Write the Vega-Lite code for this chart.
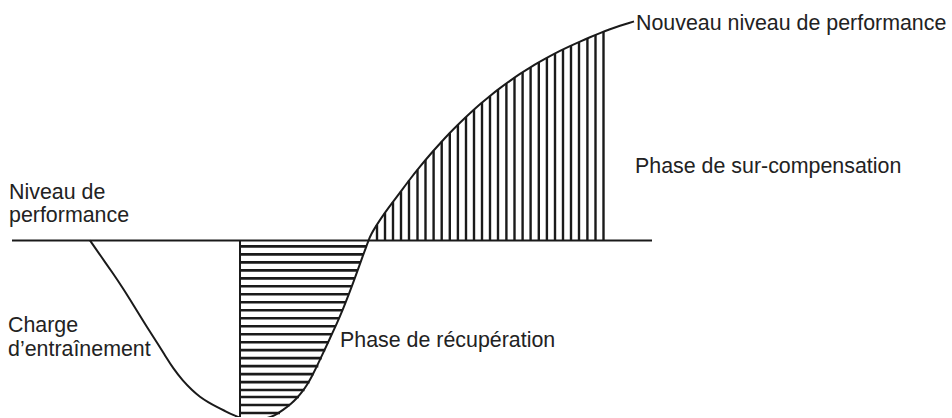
{
  "$schema": "https://vega.github.io/schema/vega-lite/v6.json",
  "width": 952,
  "height": 418,
  "padding": 0,
  "autosize": {"type": "fit", "contains": "padding"},
  "background": "white",
  "config": {"view": {"stroke": null}},
  "datasets": {
    "curve": [
      {"i": 1, "t": 90, "v": 241}, {"i": 2, "t": 101, "v": 257}, {"i": 3, "t": 113, "v": 274},
      {"i": 4, "t": 123, "v": 289}, {"i": 5, "t": 133, "v": 305}, {"i": 6, "t": 147, "v": 328},
      {"i": 7, "t": 160, "v": 348}, {"i": 8, "t": 166, "v": 358}, {"i": 9, "t": 173, "v": 369},
      {"i": 10, "t": 183, "v": 382}, {"i": 11, "t": 192, "v": 391}, {"i": 12, "t": 200, "v": 398},
      {"i": 13, "t": 208, "v": 403}, {"i": 14, "t": 217, "v": 408}, {"i": 15, "t": 225, "v": 412},
      {"i": 16, "t": 233, "v": 416}, {"i": 17, "t": 242, "v": 419.5}, {"i": 18, "t": 250, "v": 421},
      {"i": 19, "t": 258, "v": 421}, {"i": 20, "t": 266, "v": 419.5}, {"i": 21, "t": 275, "v": 416.5},
      {"i": 22, "t": 283, "v": 411}, {"i": 23, "t": 291, "v": 405}, {"i": 24, "t": 297, "v": 399},
      {"i": 25, "t": 302, "v": 393}, {"i": 26, "t": 307, "v": 386}, {"i": 27, "t": 312, "v": 377},
      {"i": 28, "t": 317, "v": 367}, {"i": 29, "t": 323, "v": 354}, {"i": 30, "t": 330, "v": 339},
      {"i": 31, "t": 337, "v": 324}, {"i": 32, "t": 343, "v": 310}, {"i": 33, "t": 348, "v": 297},
      {"i": 34, "t": 353, "v": 284}, {"i": 35, "t": 358, "v": 270}, {"i": 36, "t": 363, "v": 256},
      {"i": 37, "t": 366, "v": 248}, {"i": 38, "t": 368.5, "v": 241}, {"i": 39, "t": 371, "v": 235},
      {"i": 40, "t": 376, "v": 226.5}, {"i": 41, "t": 384, "v": 214.5}, {"i": 42, "t": 392, "v": 203.5},
      {"i": 43, "t": 400, "v": 193}, {"i": 44, "t": 410, "v": 179.5}, {"i": 45, "t": 420, "v": 167},
      {"i": 46, "t": 430, "v": 155}, {"i": 47, "t": 440, "v": 143.8}, {"i": 48, "t": 450, "v": 133},
      {"i": 49, "t": 460, "v": 123}, {"i": 50, "t": 470, "v": 113.5}, {"i": 51, "t": 480, "v": 104.5},
      {"i": 52, "t": 490, "v": 96}, {"i": 53, "t": 500, "v": 88.3}, {"i": 54, "t": 510, "v": 81},
      {"i": 55, "t": 520, "v": 74}, {"i": 56, "t": 530, "v": 67.7}, {"i": 57, "t": 540, "v": 61.8},
      {"i": 58, "t": 550, "v": 56.3}, {"i": 59, "t": 560, "v": 51}, {"i": 60, "t": 570, "v": 46.2},
      {"i": 61, "t": 580, "v": 41.7}, {"i": 62, "t": 590, "v": 37.3}, {"i": 63, "t": 600, "v": 33.2},
      {"i": 64, "t": 610, "v": 29.3}, {"i": 65, "t": 620, "v": 25.8}, {"i": 66, "t": 630, "v": 22.7},
      {"i": 67, "t": 634, "v": 21.5}
    ],
    "hstripes": [
      {"v": 247, "ta": 240, "tb": 366.5}, {"v": 255, "ta": 240, "tb": 363.5},
      {"v": 263, "ta": 240, "tb": 360.5}, {"v": 271, "ta": 240, "tb": 357.6},
      {"v": 279, "ta": 240, "tb": 354.5}, {"v": 287, "ta": 240, "tb": 351.5},
      {"v": 295, "ta": 240, "tb": 348.6}, {"v": 303, "ta": 240, "tb": 345.6},
      {"v": 311, "ta": 240, "tb": 342.6}, {"v": 319, "ta": 240, "tb": 339},
      {"v": 327, "ta": 240, "tb": 335.6}, {"v": 335, "ta": 240, "tb": 332},
      {"v": 343, "ta": 240, "tb": 328.7}, {"v": 351, "ta": 240, "tb": 325.2},
      {"v": 359, "ta": 240, "tb": 321.7}, {"v": 367, "ta": 240, "tb": 318.3},
      {"v": 375, "ta": 240, "tb": 313.5}, {"v": 383, "ta": 240, "tb": 309.5},
      {"v": 391, "ta": 240, "tb": 304.5}, {"v": 398, "ta": 240, "tb": 299},
      {"v": 406, "ta": 240, "tb": 290}, {"v": 414, "ta": 240, "tb": 280}
    ],
    "vstripes": [
      {"t": 377, "va": 241, "vb": 225.5}, {"t": 385, "va": 241, "vb": 213.5},
      {"t": 393, "va": 241, "vb": 202.5}, {"t": 401, "va": 241, "vb": 191.8},
      {"t": 409, "va": 241, "vb": 181}, {"t": 417.5, "va": 241, "vb": 170.2},
      {"t": 425.5, "va": 241, "vb": 160.4}, {"t": 433.6, "va": 241, "vb": 151},
      {"t": 441.7, "va": 241, "vb": 142}, {"t": 449.8, "va": 241, "vb": 133.2},
      {"t": 457.9, "va": 241, "vb": 125.1}, {"t": 466, "va": 241, "vb": 117.3},
      {"t": 474, "va": 241, "vb": 109.9}, {"t": 482, "va": 241, "vb": 102.8},
      {"t": 490, "va": 241, "vb": 96}, {"t": 498, "va": 241, "vb": 89.8},
      {"t": 506.4, "va": 241, "vb": 83.6}, {"t": 514.5, "va": 241, "vb": 77.9},
      {"t": 522.6, "va": 241, "vb": 72.4}, {"t": 530.6, "va": 241, "vb": 67.3},
      {"t": 538.8, "va": 241, "vb": 62.5}, {"t": 546.9, "va": 241, "vb": 58},
      {"t": 555, "va": 241, "vb": 53.7}, {"t": 563, "va": 241, "vb": 49.6},
      {"t": 571, "va": 241, "vb": 45.7}, {"t": 579, "va": 241, "vb": 42.1},
      {"t": 587.4, "va": 241, "vb": 38.4}, {"t": 595.5, "va": 241, "vb": 35.1},
      {"t": 603.5, "va": 241, "vb": 31.8}
    ],
    "refs": [
      {"ta": 12, "tb": 652, "va": 241, "vb": 241},
      {"ta": 240, "tb": 240, "va": 241, "vb": 418}
    ],
    "labels": [
      {"label": "Niveau de", "t": 9, "v": 199},
      {"label": "performance", "t": 9, "v": 223},
      {"label": "Charge", "t": 8, "v": 333},
      {"label": "d’entraînement", "t": 8, "v": 357},
      {"label": "Phase de récupération", "t": 340, "v": 348},
      {"label": "Phase de sur-compensation", "t": 635, "v": 173},
      {"label": "Nouveau niveau de performance", "t": 636, "v": 30}
    ]
  },
  "layer": [
    {
      "data": {"name": "refs"},
      "mark": {"type": "rule", "color": "#1a1a1a", "strokeWidth": 2},
      "encoding": {
        "x": {"field": "ta", "type": "quantitative", "scale": {"domain": [0, 952], "nice": false, "zero": false}, "axis": null},
        "x2": {"field": "tb"},
        "y": {"field": "va", "type": "quantitative", "scale": {"domain": [0, 418], "nice": false, "zero": false, "reverse": true}, "axis": null},
        "y2": {"field": "vb"}
      }
    },
    {
      "data": {"name": "hstripes"},
      "mark": {"type": "rule", "color": "#1a1a1a", "strokeWidth": 2.6},
      "encoding": {
        "x": {"field": "ta", "type": "quantitative"},
        "x2": {"field": "tb"},
        "y": {"field": "v", "type": "quantitative"}
      }
    },
    {
      "data": {"name": "vstripes"},
      "mark": {"type": "rule", "color": "#1a1a1a", "strokeWidth": 2.4},
      "encoding": {
        "x": {"field": "t", "type": "quantitative"},
        "y": {"field": "va", "type": "quantitative"},
        "y2": {"field": "vb"}
      }
    },
    {
      "data": {"name": "curve"},
      "mark": {"type": "line", "color": "#1a1a1a", "strokeWidth": 2, "interpolate": "basis", "clip": true},
      "encoding": {
        "x": {"field": "t", "type": "quantitative"},
        "y": {"field": "v", "type": "quantitative"},
        "order": {"field": "i", "type": "quantitative"}
      }
    },
    {
      "data": {"name": "labels"},
      "mark": {"type": "text", "align": "left", "baseline": "alphabetic", "font": "Liberation Sans", "fontSize": 21.4, "color": "#222222"},
      "encoding": {
        "x": {"field": "t", "type": "quantitative"},
        "y": {"field": "v", "type": "quantitative"},
        "text": {"field": "label", "type": "nominal"}
      }
    }
  ]
}
